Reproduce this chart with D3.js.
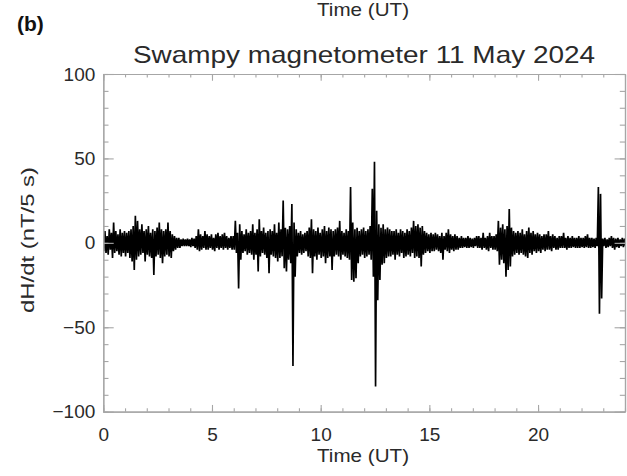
<!DOCTYPE html>
<html><head><meta charset="utf-8">
<script src="https://cdn.jsdelivr.net/npm/d3@7"></script>
<style>body{margin:0;background:#fff} svg{display:block}</style>
</head><body><svg id="c" width="627" height="476"></svg>
<script>
// dH/dt envelope, one bin every 0.1 h starting at 0 UT
const binStepHours = 0.1;
const dHdtHigh = [
  5, 7, 4, 8, 6, 12, 7, 5, 8, 6,
  7, 6, 7, 8, 10, 16, 13, 8, 11,
  7, 8, 10, 6, 8, 7, 9, 12, 8, 7,
  8, 12, 7, 5, 4, 3, 3, 2, 2.5,
  2, 2.5, 2, 3, 2.5, 4, 8, 5, 4, 7,
  5, 4, 5, 3, 5, 6, 4, 5, 6, 4,
  3, 4, 4, 13, 6, 11, 7, 5, 8,
  6, 7, 11, 6, 8, 14, 7, 9, 6, 7,
  8, 7, 11, 6, 12, 8, 25, 9, 8,
  10, 23, 12, 8, 6, 7, 5, 6, 7, 9,
  14, 8, 7, 9, 6, 8, 10, 7, 9, 8,
  7, 8, 9, 13, 7, 6, 8, 7, 33,
  12, 8, 9, 7, 8, 9, 7, 8, 10, 32,
  48, 19, 11, 9, 11, 8, 9, 8, 7,
  7, 8, 6, 8, 7, 6, 8, 7, 9, 13,
  10, 11, 9, 10, 7, 6, 5, 6, 5, 6,
  5, 4, 6, 4, 6, 8, 5, 4, 5,
  4, 3, 4, 3, 3, 4, 3, 2.5, 3, 4,
  4, 3, 6, 3, 4, 6, 4, 4, 5,
  13, 9, 11, 8, 10, 20, 9, 7, 6, 7,
  6, 8, 5, 7, 9, 6, 7, 5, 6, 5,
  4, 5, 5, 7, 4, 5, 4, 3, 4,
  4, 6, 3, 4, 3, 4, 3, 3, 4, 3,
  3, 4, 5, 3, 3, 2.5, 3, 33, 29,
  2.5, 3, 2, 3, 4, 3, 2.5, 3, 2, 3, 2.5
];
const dHdtLow = [
  -5, -6, -7, -4, -9, -6, -5, -7, -8, -6,
  -8, -6, -9, -11, -16, -10, -8, -7, -6,
  -11, -7, -8, -9, -19, -8, -7, -9, -12, -8,
  -7, -8, -9, -5, -4, -3, -3, -2, -2,
  -2, -2, -2.5, -2, -3, -4, -5, -4, -3, -4,
  -4, -3, -4, -5, -3, -4, -3, -4, -3, -4,
  -3, -4, -4, -6, -27, -10, -6, -5, -7,
  -6, -7, -10, -7, -17, -8, -6, -7, -9, -18,
  -7, -8, -9, -11, -9, -8, -15, -17, -10,
  -12, -73, -20, -8, -6, -7, -6, -5, -8, -9,
  -18, -8, -10, -7, -9, -8, -12, -9, -8, -16,
  -8, -7, -8, -10, -7, -8, -9, -10, -22,
  -23, -21, -12, -8, -7, -9, -8, -7, -10, -20,
  -85, -34, -22, -13, -12, -9, -8, -8, -7,
  -10, -7, -8, -6, -9, -8, -7, -8, -6, -9,
  -8, -9, -14, -7, -6, -5, -6, -5, -5, -4,
  -5, -6, -10, -4, -5, -6, -4, -5, -4,
  -4, -3, -3, -2.5, -3, -3, -2.5, -3, -2, -3,
  -3, -4, -3, -4, -5, -3, -4, -4, -5,
  -13, -10, -12, -20, -16, -14, -8, -7, -6, -7,
  -6, -7, -8, -9, -6, -7, -5, -6, -5, -6,
  -4, -5, -4, -4, -5, -3, -4, -4, -3,
  -3, -3, -4, -3, -3, -2.5, -3, -3, -3, -2.5,
  -3, -2.5, -3, -3, -2.5, -3, -2, -42, -33,
  -2, -3, -2.5, -2, -3, -4, -2.5, -3, -2, -2.5, -2
];
const xDomain = [0, 24];
const yDomain = [-100, 100];
const xMajorTicks = [0, 5, 10, 15, 20];
const xMinorTicks = d3.range(0, 25, 1);
const yMajorTicks = [-100, -50, 0, 50, 100];
const yMinorTicks = d3.range(-100, 101, 10);
const titleText = "Swampy magnetometer 11 May 2024";
const xLabelText = "Time (UT)";
const yLabelText = "dH/dt (nT/5 s)";
const panelText = "(b)";

const svg = d3.select("#c");
const L = 103.3, R = 625, T = 74, B = 411.7;
const x = d3.scaleLinear().domain(xDomain).range([L, R]);
const y = d3.scaleLinear().domain(yDomain).range([B, T]);
const font = "'Liberation Sans', Arial, Helvetica, sans-serif";
const axisCol = "#a6a6a6", textCol = "#2a2a2a";

// data trace
svg.append("clipPath").attr("id", "pc").append("rect")
  .attr("x", L).attr("y", T).attr("width", R - L).attr("height", B - T);
const pts = [];
dHdtHigh.forEach((h, i) => {
  const t = i * binStepHours;
  pts.push([t - 0.025, h]);
  pts.push([t + 0.025, dHdtLow[i]]);
});
svg.append("path").attr("clip-path", "url(#pc)")
  .attr("d", d3.line().x(d => x(d[0])).y(d => y(d[1]))(pts))
  .attr("fill", "none").attr("stroke", "#000").attr("stroke-width", 1.7)
  .attr("stroke-linejoin", "bevel");

function styleAxis(g) {
  g.selectAll(".domain").attr("stroke", axisCol).attr("stroke-width", 1.2);
  g.selectAll(".tick line").attr("stroke", axisCol).attr("stroke-width", 1.1);
  g.selectAll("text").attr("fill", textCol).style("font-family", font).style("font-size", "19px");
}
const xl = 6.75, yl = 10.4;
// bottom
svg.append("g").attr("transform", `translate(0,${B})`)
  .call(d3.axisBottom(x).tickValues(xMinorTicks).tickSizeInner(-xl / 2).tickSizeOuter(0).tickFormat(""))
  .call(styleAxis);
svg.append("g").attr("transform", `translate(0,${B})`)
  .call(d3.axisBottom(x).tickValues(xMajorTicks).tickSizeInner(-xl).tickSizeOuter(0).tickPadding(16).tickFormat(d3.format("d")))
  .call(styleAxis);
// top
svg.append("g").attr("transform", `translate(0,${T})`)
  .call(d3.axisTop(x).tickValues(xMinorTicks).tickSizeInner(-xl / 2).tickSizeOuter(0).tickFormat(""))
  .call(styleAxis);
svg.append("g").attr("transform", `translate(0,${T})`)
  .call(d3.axisTop(x).tickValues(xMajorTicks).tickSizeInner(-xl).tickSizeOuter(0).tickFormat(""))
  .call(styleAxis);
// left
svg.append("g").attr("transform", `translate(${L},0)`)
  .call(d3.axisLeft(y).tickValues(yMinorTicks).tickSizeInner(-yl / 2).tickSizeOuter(0).tickFormat(""))
  .call(styleAxis);
svg.append("g").attr("transform", `translate(${L},0)`)
  .call(d3.axisLeft(y).tickValues(yMajorTicks).tickSizeInner(-yl).tickSizeOuter(0).tickPadding(8)
    .tickFormat(d => d < 0 ? "\u2212" + Math.abs(d) : String(d)))
  .call(styleAxis);
// right
svg.append("g").attr("transform", `translate(${R},0)`)
  .call(d3.axisRight(y).tickValues(yMinorTicks).tickSizeInner(-yl / 2).tickSizeOuter(0).tickFormat(""))
  .call(styleAxis);
svg.append("g").attr("transform", `translate(${R},0)`)
  .call(d3.axisRight(y).tickValues(yMajorTicks).tickSizeInner(-yl).tickSizeOuter(0).tickFormat(""))
  .call(styleAxis);

// texts
svg.append("text").attr("x", 364).attr("y", 63).attr("text-anchor", "middle")
  .attr("textLength", 462).attr("lengthAdjust", "spacingAndGlyphs")
  .style("font-family", font).style("font-size", "24px").attr("fill", textCol).text(titleText);
svg.append("text").attr("x", 363).attr("y", 462).attr("text-anchor", "middle")
  .attr("textLength", 92).attr("lengthAdjust", "spacingAndGlyphs")
  .style("font-family", font).style("font-size", "19px").attr("fill", textCol).text(xLabelText);
svg.append("text").attr("x", 363).attr("y", 16).attr("text-anchor", "middle")
  .attr("textLength", 92).attr("lengthAdjust", "spacingAndGlyphs")
  .style("font-family", font).style("font-size", "19px").attr("fill", textCol).text(xLabelText);
svg.append("text").attr("transform", "translate(34,240) rotate(-90)").attr("text-anchor", "middle")
  .attr("textLength", 146).attr("lengthAdjust", "spacingAndGlyphs")
  .style("font-family", font).style("font-size", "19px").attr("fill", textCol).text(yLabelText);
svg.append("text").attr("x", 17).attr("y", 31)
  .style("font-family", font).style("font-size", "21px").style("font-weight", "bold").attr("fill", "#111").text(panelText);
</script></body></html>
